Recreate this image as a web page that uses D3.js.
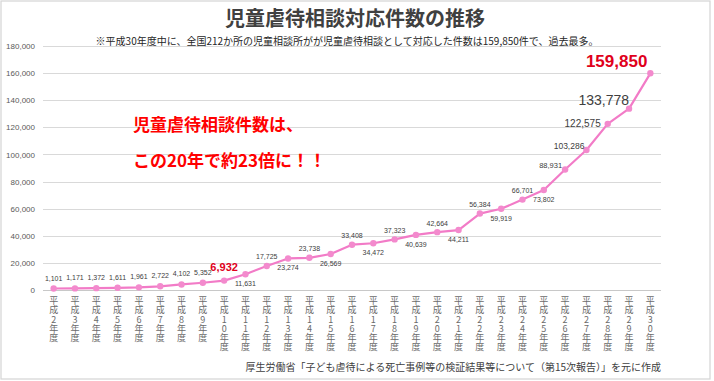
<!DOCTYPE html>
<html><head><meta charset="utf-8">
<script src="https://cdn.jsdelivr.net/npm/d3@7"></script>
<style>html,body{margin:0;padding:0;background:#fff;}</style>
</head><body>
<svg id="chart" width="714" height="381"></svg>
<script>
const years = ["2","3","4","5","6","7","8","9","10","11","12","13","14","15","16","17","18","19","20","21","22","23","24","25","26","27","28","29","30"];
const counts = [1101,1171,1372,1611,1961,2722,4102,5352,6932,11631,17725,23274,23738,26569,33408,34472,37323,40639,42664,44211,56384,59919,66701,73802,88931,103286,122575,133778,159850];
const labelPlacement = ["a","a","a","a","a","a","a","a","hl10","b","a","b","a","b","a","b","a","b","a","b","a","b","a","b","l1","l2","l3","l4","hl30"];
const yTicks = [0,20000,40000,60000,80000,100000,120000,140000,160000,180000];
const titleText = "児童虐待相談対応件数の推移";
const subtitleText = "※平成30年度中に、全国212か所の児童相談所がが児童虐待相談として対応した件数は159,850件で、過去最多。";
const noteLines = ["児童虐待相談件数は、","この20年で約23倍に！！"];
const sourceText = "厚生労働省「子ども虐待による死亡事例等の検証結果等について（第15次報告）」を元に作成";

const svg = d3.select("#chart");
const JP = "'Noto Sans CJK JP','Noto Sans',sans-serif";
const NUM = "'Liberation Sans',Arial,sans-serif";

svg.append("rect").attr("x",1).attr("y",1).attr("width",709).attr("height",378)
  .attr("fill","#fff").attr("stroke","#d4d4d4").attr("stroke-width",1.2);

const x = d3.scalePoint().domain(years).range([43,661]).padding(0.5);
const y = d3.scaleLinear().domain([0,180000]).range([290,46]);

// gridlines
svg.append("g").selectAll("line").data(yTicks).join("line")
  .attr("x1",43).attr("x2",661)
  .attr("y1",d=>Math.round(y(d))+0.5).attr("y2",d=>Math.round(y(d))+0.5)
  .attr("stroke",d=>d===0?"#c8c8c8":"#d9d9d9").attr("stroke-width",1);

// y axis
const yAxis = d3.axisLeft(y).tickValues(yTicks).tickSize(0).tickPadding(0)
  .tickFormat(d3.format(","));
const ga = svg.append("g").attr("transform","translate(35,0)").call(yAxis);
ga.select(".domain").remove();
ga.selectAll("text").attr("font-family",NUM).attr("font-size",8).attr("fill","#595959");

// x labels (vertical, upright)
svg.append("g").selectAll("text").data(years).join("text")
  .attr("x",d=>x(d)).attr("y",296)
  .style("writing-mode","vertical-rl").style("text-orientation","upright")
  .style("letter-spacing","0.3px")
  .attr("font-family",JP).attr("font-size",9).attr("fill","#6b6b6b")
  .text(d=>"平成"+d+"年度");

// line
const line = d3.line().x((d,i)=>x(years[i])).y(d=>y(d));
svg.append("path").datum(counts).attr("d",line).attr("fill","none")
  .attr("stroke","#F27BC7").attr("stroke-width",2.2).attr("stroke-linejoin","round");
svg.append("g").selectAll("circle").data(counts).join("circle")
  .attr("cx",(d,i)=>x(years[i])).attr("cy",d=>y(d)).attr("r",3.2).attr("fill","#F38ACD");

// data labels
const fmt = d3.format(",");
const lg = svg.append("g");
counts.forEach((v,i)=>{
  const px = x(years[i]), py = y(v), p = labelPlacement[i];
  const t = lg.append("text").attr("font-family",NUM).text(fmt(v));
  if(p==="a"){ t.attr("x",px).attr("y",py-(i<8?8:6.5)).attr("text-anchor","middle").attr("font-size",7).attr("fill","#404040"); }
  else if(p==="b"){ t.attr("x",px).attr("y",py+12).attr("text-anchor","middle").attr("font-size",7).attr("fill","#404040"); }
  else if(p==="hl10"){ t.attr("x",px).attr("y",py-9.5).attr("text-anchor","middle").attr("font-size",11).attr("font-weight","bold").attr("fill","#E0001B"); }
  else if(p==="l1"){ t.attr("x",px-3).attr("y",py-1).attr("text-anchor","end").attr("font-size",7.5).attr("fill","#404040"); }
  else if(p==="l2"){ t.attr("x",px-2).attr("y",py-0.5).attr("text-anchor","end").attr("font-size",8.5).attr("fill","#404040"); }
  else if(p==="l3"){ t.attr("x",px-7).attr("y",py+3.5).attr("text-anchor","end").attr("font-size",10).attr("fill","#404040"); }
  else if(p==="l4"){ t.attr("x",px).attr("y",py-4).attr("text-anchor","end").attr("font-size",14).attr("fill","#404040"); }
  else if(p==="hl30"){ t.attr("x",px-3).attr("y",py-6).attr("text-anchor","end").attr("font-size",17).attr("font-weight","bold").attr("fill","#E0001B"); }
});

// title and texts
svg.append("text").attr("x",355).attr("y",26).attr("text-anchor","middle")
  .attr("font-family",JP).attr("font-size",20).attr("font-weight","bold").attr("fill","#404040").text(titleText);
svg.append("text").attr("x",347).attr("y",44.5).attr("text-anchor","middle")
  .attr("font-family",JP).attr("font-size",10).attr("fill","#262626").text(subtitleText);
noteLines.forEach((s,i)=>{
  svg.append("text").attr("x",133).attr("y",131+i*36)
    .attr("font-family",JP).attr("font-size",17).attr("font-weight","bold").attr("fill","#FF0000").text(s);
});
svg.append("text").attr("x",661).attr("y",370.5).attr("text-anchor","end")
  .attr("font-family",JP).attr("font-size",10).attr("fill","#404040").text(sourceText);
</script>
</body></html>
